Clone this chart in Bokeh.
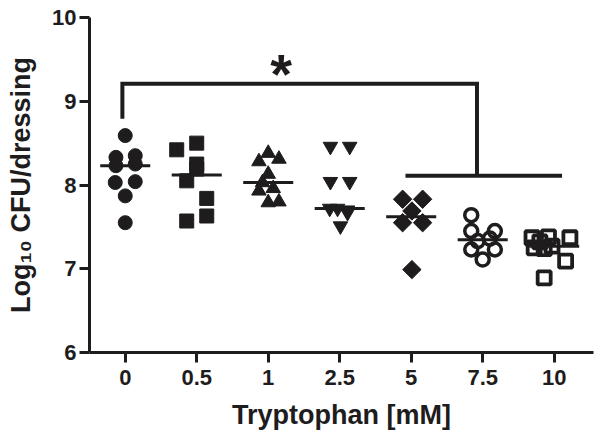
import numpy as np
from bokeh.plotting import figure
from bokeh.models import Range1d, FixedTicker
from bokeh.core.properties import value
from bokeh.embed import file_html
from bokeh.resources import INLINE

# ---- data ----
categories = ["0", "0.5", "1", "2.5", "5", "7.5", "10"]

cfu_0 = [8.59, 8.33, 8.23, 8.35, 8.25, 8.03, 8.04, 7.87, 7.55]
jit_0 = [0.00, -0.13, -0.13, 0.14, 0.14, -0.14, 0.14, 0.00, 0.00]

cfu_05 = [8.42, 8.50, 8.25, 8.19, 8.05, 7.84, 7.63, 7.57]
jit_05 = [-0.28, 0.00, 0.00, 0.00, -0.14, 0.14, 0.14, -0.14]

cfu_1 = [8.38, 8.28, 8.31, 8.13, 8.03, 7.93, 7.96, 7.79, 7.80]
jit_1 = [0.00, -0.13, 0.15, 0.00, -0.08, -0.13, 0.07, 0.00, 0.15]

cfu_25 = [8.46, 8.46, 8.04, 8.04, 7.72, 7.72, 7.70, 7.67, 7.51]
jit_25 = [-0.13, 0.14, -0.13, 0.14, -0.14, -0.03, 0.11, 0.11, 0.01]

cfu_5 = [7.83, 7.83, 7.69, 7.55, 7.55, 6.99]
jit_5 = [-0.12, 0.16, 0.01, -0.12, 0.16, 0.01]

cfu_75 = [7.64, 7.45, 7.45, 7.33, 7.36, 7.23, 7.23, 7.11]
jit_75 = [-0.16, -0.16, 0.17, -0.07, 0.10, -0.16, 0.17, 0.00]

cfu_10 = [7.37, 7.32, 7.38, 7.27, 7.25, 7.24, 7.37, 7.09, 6.89]
jit_10 = [-0.31, -0.20, -0.08, -0.03, -0.28, -0.14, 0.22, 0.16, -0.14]

y_ticks = [6, 7, 8, 9, 10]

# significance bracket (annotation)
bracket1_x = [-0.04, -0.04, 4.92, 4.92]
bracket1_y = [8.79, 9.21, 9.21, 8.11]
bracket2_x = [3.92, 6.11]
bracket2_y = [8.11, 8.11]
star_x, star_y = 2.18, 9.33

# ---- styles ----
INK = "#1e1c1d"
FONT = "Liberation Sans"

groups = [
    (cfu_0, jit_0, dict(marker="circle", size=14, fill_color=INK, line_color=INK)),
    (cfu_05, jit_05, dict(marker="square", size=14, fill_color=INK, line_color=INK)),
    (cfu_1, jit_1, dict(marker="triangle", size=14.5, fill_color=INK, line_color=INK)),
    (cfu_25, jit_25, dict(marker="inverted_triangle", size=14.5, fill_color=INK, line_color=INK)),
    (cfu_5, jit_5, dict(marker="square", size=13, angle=np.pi / 4, fill_color=INK, line_color=INK)),
    (cfu_75, jit_75, dict(marker="circle", size=13, fill_color=None, line_color=INK, line_width=3.5)),
    (cfu_10, jit_10, dict(marker="square", size=13, fill_color=None, line_color=INK, line_width=3.8)),
]

p = figure(width=602, height=441, output_backend="svg", toolbar_location=None,
           x_range=Range1d(-0.5, 6.55), y_range=Range1d(6, 10),
           min_border_left=89, min_border_right=9, min_border_top=17, min_border_bottom=89)
p.outline_line_color = None
p.grid.visible = False
p.background_fill_color = "white"

for i, (vals, jit, style) in enumerate(groups):
    xs = [i + j for j in jit]
    p.scatter(xs, vals, **style)
    med = float(np.median(vals))
    p.segment(x0=[i - 0.35], y0=[med], x1=[i + 0.35], y1=[med], line_color=INK, line_width=3)

p.line(bracket1_x, bracket1_y, line_color=INK, line_width=4, line_join="miter")
p.line(bracket2_x, bracket2_y, line_color=INK, line_width=4)
p.text(x=[star_x], y=[star_y], text=["*"], text_font=value(FONT), text_font_style="bold",
       text_font_size="56px", text_align="center", text_baseline="alphabetic", text_color=INK)

# axes
p.xaxis.ticker = FixedTicker(ticks=list(range(len(categories))))
p.xaxis.major_label_overrides = {i: c for i, c in enumerate(categories)}
p.yaxis.ticker = FixedTicker(ticks=y_ticks)
for ax in (p.xaxis[0], p.yaxis[0]):
    ax.axis_line_width = 3
    ax.axis_line_color = INK
    ax.major_tick_line_width = 3
    ax.major_tick_line_color = INK
    ax.major_tick_in = 0
    ax.major_tick_out = 10
    ax.minor_tick_line_color = None
    ax.major_label_text_font = FONT
    ax.major_label_text_font_style = "bold"
    ax.major_label_text_font_size = "22px"
    ax.major_label_text_color = INK
    ax.axis_label_text_font = FONT
    ax.axis_label_text_font_style = "bold"
    ax.axis_label_text_font_size = "27px"
    ax.axis_label_text_color = INK

p.xaxis.axis_label = "Tryptophan [mM]"
p.xaxis.major_label_standoff = 7
p.xaxis.axis_label_standoff = 12
p.yaxis.axis_label = "Log\u2081\u2080 CFU/dressing"
p.yaxis.major_label_standoff = 3
p.yaxis.axis_label_standoff = 13

open("out.html", "w").write(file_html(p, INLINE))
